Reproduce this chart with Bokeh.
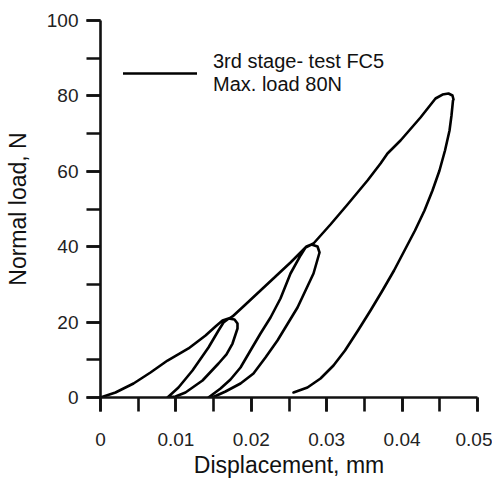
from bokeh.plotting import figure
from bokeh.models import (Range1d, SingleIntervalTicker, CustomJSTickFormatter,
                          Legend, LegendItem)
from bokeh.embed import file_html
from bokeh.resources import INLINE

# Digitised loading/unloading path (displacement in mm, normal load in N)
displacement = [
    # first loading to 20 N
    0.0, 0.00199, 0.00438, 0.00663, 0.00889, 0.01167, 0.01393, 0.01525, 0.01618,
    0.01698, 0.01777, 0.01817, 0.01817,
    # unloading from 20 N
    0.01751, 0.01671, 0.01565, 0.01353, 0.01127, 0.00995, 0.00889,
    # reloading and loading to 40 N
    0.01034, 0.01220, 0.01432, 0.01565, 0.01631, 0.01684,
    0.01751, 0.01923, 0.02122, 0.02321, 0.02520, 0.02653, 0.02732,
    0.02798, 0.02878, 0.02905,
    # unloading from 40 N
    0.02825, 0.02613, 0.02347, 0.02188, 0.02029, 0.01857, 0.01658, 0.01512, 0.01432,
    # reloading and loading to 80 N
    0.01592, 0.01724, 0.01857, 0.01989, 0.02122, 0.02255, 0.02387, 0.02520, 0.02653,
    0.02719, 0.02798,
    0.02825, 0.03050, 0.03276, 0.03541, 0.03714, 0.03806, 0.03979, 0.04244, 0.04443,
    0.04536, 0.04615, 0.04668, 0.04682,
    # unloading from 80 N
    0.04675, 0.04655, 0.04629, 0.04569, 0.04496, 0.04403, 0.04297, 0.04171,
    0.04032, 0.03893, 0.03740, 0.03581, 0.03415, 0.03243, 0.03090, 0.02918,
    0.02745, 0.02560,
]
load = [
    0.0, 1.33, 3.71, 6.63, 9.81, 13.00, 16.45, 18.83, 20.42,
    20.95, 20.69, 19.63, 18.30,
    14.32, 11.41, 9.02, 4.51, 1.33, 0.27, 0.0,
    2.65, 7.16, 13.26, 17.77, 19.89, 20.69,
    21.49, 24.67, 28.38, 32.10, 35.81, 38.46, 40.05,
    40.58, 40.05, 38.46,
    32.89, 23.87, 15.12, 10.61, 6.37, 3.71, 1.59, 0.27, 0.0,
    2.39, 4.77, 7.96, 12.47, 16.98, 21.22, 26.26, 32.89, 37.67,
    39.79, 40.58,
    40.85, 45.89, 51.19, 57.56, 62.07, 64.72, 68.17, 74.27, 79.31,
    80.37, 80.64, 80.11, 79.05,
    78.78, 74.80, 70.82, 65.52, 60.21, 54.91, 49.60, 44.30,
    38.99, 33.69, 28.38, 23.08, 17.77, 12.47, 8.49, 5.04,
    2.65, 1.33,
]

legend_label = "3rd stage- test FC5\nMax. load 80N"
x_title = "Displacement, mm"
y_title = "Normal load, N"

FONT = "Liberation Sans"

p = figure(frame_width=377, frame_height=377, output_backend="svg",
           toolbar_location=None,
           x_range=Range1d(0, 0.05), y_range=Range1d(0, 100),
           min_border_left=100, min_border_right=15, min_border_top=20,
           min_border_bottom=83)
p.outline_line_color = None
p.xgrid.visible = False
p.ygrid.visible = False

r = p.line(displacement, load, line_color="black", line_width=2.6,
           line_join="round", line_cap="round")

for ax in (p.xaxis[0], p.yaxis[0]):
    ax.axis_line_width = 2.6
    ax.axis_line_color = "#111111"
    ax.major_tick_line_width = 2.6
    ax.minor_tick_line_width = 2.6
    ax.major_tick_line_color = "#111111"
    ax.minor_tick_line_color = "#111111"
    ax.major_tick_in = 0
    ax.minor_tick_in = 0
    ax.major_tick_out = 14
    ax.minor_tick_out = 14
    ax.major_label_text_font = FONT
    ax.major_label_text_font_size = "19px"
    ax.major_label_text_color = "#222222"
    ax.axis_label_text_font = FONT
    ax.axis_label_text_font_size = "23px"
    ax.axis_label_text_font_style = "normal"
    ax.axis_label_text_color = "#111111"

p.xaxis.ticker = SingleIntervalTicker(interval=0.01, num_minor_ticks=2)
p.yaxis.ticker = SingleIntervalTicker(interval=20, num_minor_ticks=2)
p.xaxis.formatter = CustomJSTickFormatter(code="return String(Number(tick.toFixed(4)));")
p.xaxis.axis_label = x_title
p.yaxis.axis_label = y_title
p.xaxis.major_label_standoff = 21
p.yaxis.major_label_standoff = 8
p.xaxis.axis_label_standoff = 3
p.yaxis.axis_label_standoff = 13

legend = Legend(items=[LegendItem(label=legend_label, renderers=[r])],
                location=(23, 301), orientation="vertical",
                glyph_width=74, glyph_height=40, label_standoff=16,
                padding=0, margin=0, spacing=0,
                border_line_color=None, background_fill_alpha=0,
                label_text_font=FONT, label_text_font_size="20px",
                label_text_color="#111111", label_text_line_height=1.1)
p.add_layout(legend)

open("out.html", "w").write(file_html(p, INLINE))
